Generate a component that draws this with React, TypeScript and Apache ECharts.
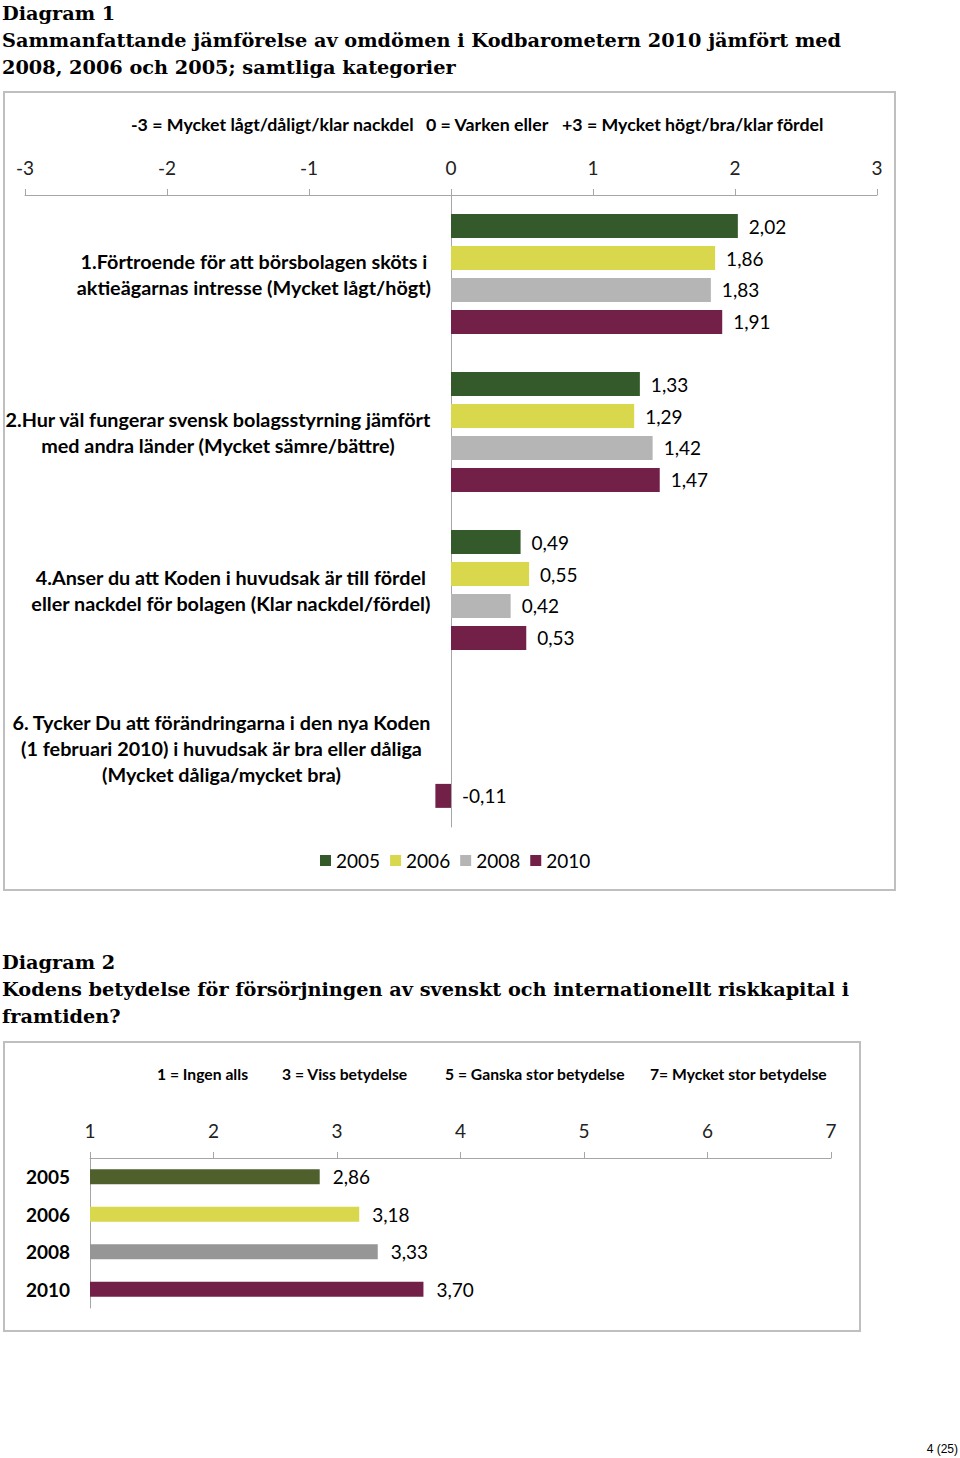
import React, { useEffect, useRef } from "react";
import * as echarts from "echarts";

const categories1 = [
  "1.Förtroende för att börsbolagen sköts i\naktieägarnas intresse (Mycket lågt/högt)",
  "2.Hur väl fungerar svensk bolagsstyrning jämfört\nmed andra länder (Mycket sämre/bättre)",
  "4.Anser du att Koden i huvudsak är till fördel\neller nackdel för bolagen (Klar nackdel/fördel)",
  "6. Tycker Du att förändringarna i den nya Koden\n(1 februari 2010) i huvudsak är bra eller dåliga\n(Mycket dåliga/mycket bra)",
];
const years = ["2005", "2006", "2008", "2010"];
const v2005 = [2.02, 1.33, 0.49, null];
const v2006 = [1.86, 1.29, 0.55, null];
const v2008 = [1.83, 1.42, 0.42, null];
const v2010 = [1.91, 1.47, 0.53, -0.11];
const axis1Ticks = [-3, -2, -1, 0, 1, 2, 3];

const categories2 = ["2005", "2006", "2008", "2010"];
const values2 = [2.86, 3.18, 3.33, 3.7];
const axis2Ticks = [1, 2, 3, 4, 5, 6, 7];

const colors1 = ["#34592a", "#d9d74c", "#b5b5b5", "#722048"];
const colors2 = ["#4f602c", "#d9d74c", "#969696", "#722048"];

const SANS = "Lato";
const SERIF = "DejaVu Serif";

export default function App() {
  const ref = useRef<HTMLDivElement>(null);
  useEffect(() => {
    document.body.style.margin = "0";
    if (!ref.current) return;
    const chart = echarts.init(ref.current, null, { renderer: "svg" });
    const fmt = (p: any) =>
      p.value == null ? "" : Number(p.value).toFixed(2).replace(".", ",");
    const series1Data = [v2005, v2006, v2008, v2010];
    const heading = (text: string, y: number) => ({
      type: "text",
      x: 2,
      y,
      style: {
        text,
        fontFamily: SERIF,
        fontWeight: "bold",
        fontSize: 19.3,
        fill: "#000",
        textVerticalAlign: "middle",
      },
    });
    const note = (text: string, x: number, y: number, size: number) => ({
      type: "text",
      x,
      y,
      style: {
        text,
        fontFamily: SANS,
        fontWeight: "bold",
        fontSize: size,
        fill: "#000",
        textVerticalAlign: "middle",
      },
    });
    chart.setOption({
      animation: false,
      graphic: [
        heading("Diagram 1", 13),
        heading("Sammanfattande jämförelse av omdömen i Kodbarometern 2010 jämfört med", 40),
        heading("2008, 2006 och 2005; samtliga kategorier", 67),
        heading("Diagram 2", 962),
        heading("Kodens betydelse för försörjningen av svenskt och internationellt riskkapital i", 989),
        heading("framtiden?", 1016),
        {
          type: "rect",
          shape: { x: 4, y: 92, width: 891, height: 798 },
          style: { fill: "none", stroke: "#bfbfbf", lineWidth: 2 },
        },
        {
          type: "rect",
          shape: { x: 4, y: 1042, width: 856, height: 289 },
          style: { fill: "none", stroke: "#bfbfbf", lineWidth: 2 },
        },
        note("-3 = Mycket lågt/dåligt/klar nackdel", 131, 124, 17.75),
        note("0 = Varken eller", 426, 124, 17.75),
        note("+3 = Mycket högt/bra/klar fördel", 562, 124, 17.75),
        note("1 = Ingen alls", 157, 1074, 15.7),
        note("3 = Viss betydelse", 282, 1074, 15.7),
        note("5 = Ganska stor betydelse", 445, 1074, 15.7),
        note("7= Mycket stor betydelse", 650, 1074, 15.7),
        {
          type: "text",
          x: 958,
          y: 1449,
          style: {
            text: "4 (25)",
            fontFamily: "Liberation Sans",
            fontSize: 12,
            fill: "#000",
            textAlign: "right",
            textVerticalAlign: "middle",
          },
        },
      ],
      legend: {
        data: years,
        left: 315,
        top: 846,
        icon: "rect",
        itemWidth: 11,
        itemHeight: 11,
        itemGap: 10,
        textStyle: { fontFamily: SANS, fontSize: 19, color: "#000" },
      },
      grid: [
        { left: 25, right: 83, top: 195, height: 632, containLabel: false, outerBoundsMode: "none" },
        { left: 90, right: 129, top: 1158, height: 150, containLabel: false, outerBoundsMode: "none" },
      ],
      xAxis: [
        {
          type: "value",
          gridIndex: 0,
          position: "top",
          min: axis1Ticks[0],
          max: axis1Ticks[axis1Ticks.length - 1],
          interval: 1,
          splitLine: { show: false },
          axisLine: { show: true, lineStyle: { color: "#a6a6a6" } },
          axisTick: { show: true, length: 6, lineStyle: { color: "#a6a6a6" } },
          axisLabel: { fontFamily: SANS, fontSize: 19, color: "#222", margin: 18 },
        },
        {
          type: "value",
          gridIndex: 1,
          position: "top",
          min: axis2Ticks[0],
          max: axis2Ticks[axis2Ticks.length - 1],
          interval: 1,
          splitLine: { show: false },
          axisLine: { show: true, lineStyle: { color: "#a6a6a6" } },
          axisTick: { show: true, length: 6, lineStyle: { color: "#a6a6a6" } },
          axisLabel: { fontFamily: SANS, fontSize: 19, color: "#222", margin: 18 },
        },
      ],
      yAxis: [
        {
          type: "category",
          gridIndex: 0,
          inverse: true,
          data: categories1,
          axisTick: { show: false },
          axisLine: { show: true, onZero: true, lineStyle: { color: "#a6a6a6" } },
          axisLabel: {
            margin: -406,
            formatter: (v: string) =>
              v
                .split("\n")
                .map((l) => "{c|" + l + "}")
                .join("\n"),
            rich: {
              c: {
                align: "center",
                fontFamily: SANS,
                fontWeight: "bold",
                fontSize: 19.8,
                lineHeight: 26,
                color: "#000",
              },
            },
          },
        },
        {
          type: "category",
          gridIndex: 1,
          inverse: true,
          data: categories2,
          axisTick: { show: false },
          axisLine: { show: true, lineStyle: { color: "#a6a6a6" } },
          axisLabel: {
            margin: 20,
            fontFamily: SANS,
            fontWeight: "bold",
            fontSize: 19,
            color: "#000",
          },
        },
      ],
      series: [
        ...years.map((y, i) => ({
          name: y,
          type: "bar",
          xAxisIndex: 0,
          yAxisIndex: 0,
          data: series1Data[i],
          barWidth: 24,
          barGap: "33%",
          itemStyle: { color: colors1[i] },
          label: {
            show: true,
            position: "right",
            distance: 11,
            formatter: fmt,
            fontFamily: SANS,
            fontSize: 19,
            color: "#000",
          },
        })),
        {
          name: "Diagram 2",
          type: "bar",
          xAxisIndex: 1,
          yAxisIndex: 1,
          barWidth: 15,
          data: values2.map((v, i) => ({ value: v, itemStyle: { color: colors2[i] } })),
          label: {
            show: true,
            position: "right",
            distance: 13,
            formatter: fmt,
            fontFamily: SANS,
            fontSize: 19,
            color: "#000",
          },
        },
      ],
      color: colors1,
    });
    return () => chart.dispose();
  }, []);
  return <div ref={ref} style={{ width: 960, height: 1458 }} />;
}
